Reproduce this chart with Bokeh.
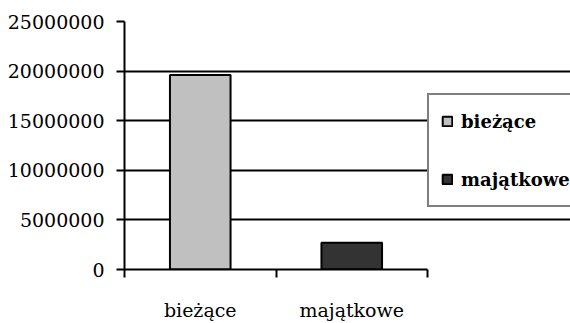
from bokeh.plotting import figure
from bokeh.models import ColumnDataSource, FixedTicker, Legend, LegendItem
from bokeh.embed import file_html
from bokeh.resources import INLINE

# Expenditure split: current vs. capital
categories = ["bieżące", "majątkowe"]
values = [19600000, 2700000]
colors = ["#c0c0c0", "#333333"]
y_ticks = [0, 5000000, 10000000, 15000000, 20000000, 25000000]

# each category occupies one unit on the x axis; bars sit in the middle
n = len(categories)
x_centers = [i + 0.5 for i in range(n)]
x_bounds = list(range(n + 1))

source = ColumnDataSource(dict(x=x_centers, top=values, cat=categories, color=colors))

FONT = "DejaVu Serif"

# the frame runs to the right edge so that the legend box can sit in it;
# the plotted area itself (axis, grid) stops after the last category
PLOT_W = 303          # px taken by the categories
FRAME_W = 570 - 124   # px of the whole frame
x_end = n * FRAME_W / PLOT_W

p = figure(
    width=570, height=323,
    x_range=(0, x_end), y_range=(0, y_ticks[-1]),
    output_backend="svg", toolbar_location=None,
    min_border_left=124, min_border_right=0,
    min_border_top=21, min_border_bottom=52,
)
p.outline_line_color = None
p.background_fill_color = "white"
p.border_fill_color = "white"

LW = 2

r = p.vbar(x="x", top="top", width=0.4, source=source,
           fill_color="color", line_color="black", line_width=LW)

# y axis
p.yaxis.ticker = FixedTicker(ticks=y_ticks)
p.yaxis.formatter.use_scientific = False
p.yaxis.axis_line_color = "black"
p.yaxis.axis_line_width = LW
p.yaxis.major_tick_line_width = LW
p.yaxis.major_tick_in = 0
p.yaxis.major_tick_out = 8
p.yaxis.minor_tick_line_color = None
p.yaxis.major_label_text_font = FONT
p.yaxis.major_label_text_font_size = "19px"
p.yaxis.major_label_text_color = "black"
p.yaxis.major_label_standoff = 12

# x axis: labels at category centres, tick marks on category boundaries
p.xaxis.bounds = (0, n)
p.xaxis.ticker = FixedTicker(ticks=x_centers, minor_ticks=x_bounds)
p.xaxis.major_label_overrides = {x: c for x, c in zip(x_centers, categories)}
p.xaxis.axis_line_color = "black"
p.xaxis.axis_line_width = LW
p.xaxis.major_tick_line_color = None
p.xaxis.minor_tick_line_color = "black"
p.xaxis.minor_tick_line_width = LW
p.xaxis.minor_tick_in = 0
p.xaxis.minor_tick_out = 8
p.xaxis.major_label_text_font = FONT
p.xaxis.major_label_text_font_size = "19px"
p.xaxis.major_label_text_color = "black"
p.xaxis.major_label_standoff = 21

# grid lines only across the category area
p.xgrid.grid_line_color = None
p.ygrid.ticker = FixedTicker(ticks=y_ticks)
p.ygrid.bounds = (0, n)
p.ygrid.grid_line_color = "black"
p.ygrid.grid_line_width = LW

# legend box to the right of the category area; it runs past the page edge
items = [LegendItem(label=c, renderers=[r], index=i) for i, c in enumerate(categories)]
legend = Legend(
    items=items, location=(PLOT_W, 62),
    border_line_color="black", border_line_width=LW,
    background_fill_color="white", background_fill_alpha=1.0,
    glyph_width=12, glyph_height=12, label_standoff=8,
    padding=12, spacing=30, margin=0,
    label_text_font=FONT, label_text_font_style="bold",
    label_text_font_size="18px", label_text_color="black",
    label_height=28, label_width=140,
)
p.add_layout(legend, "center")

open("out.html", "w").write(file_html(p, INLINE))
